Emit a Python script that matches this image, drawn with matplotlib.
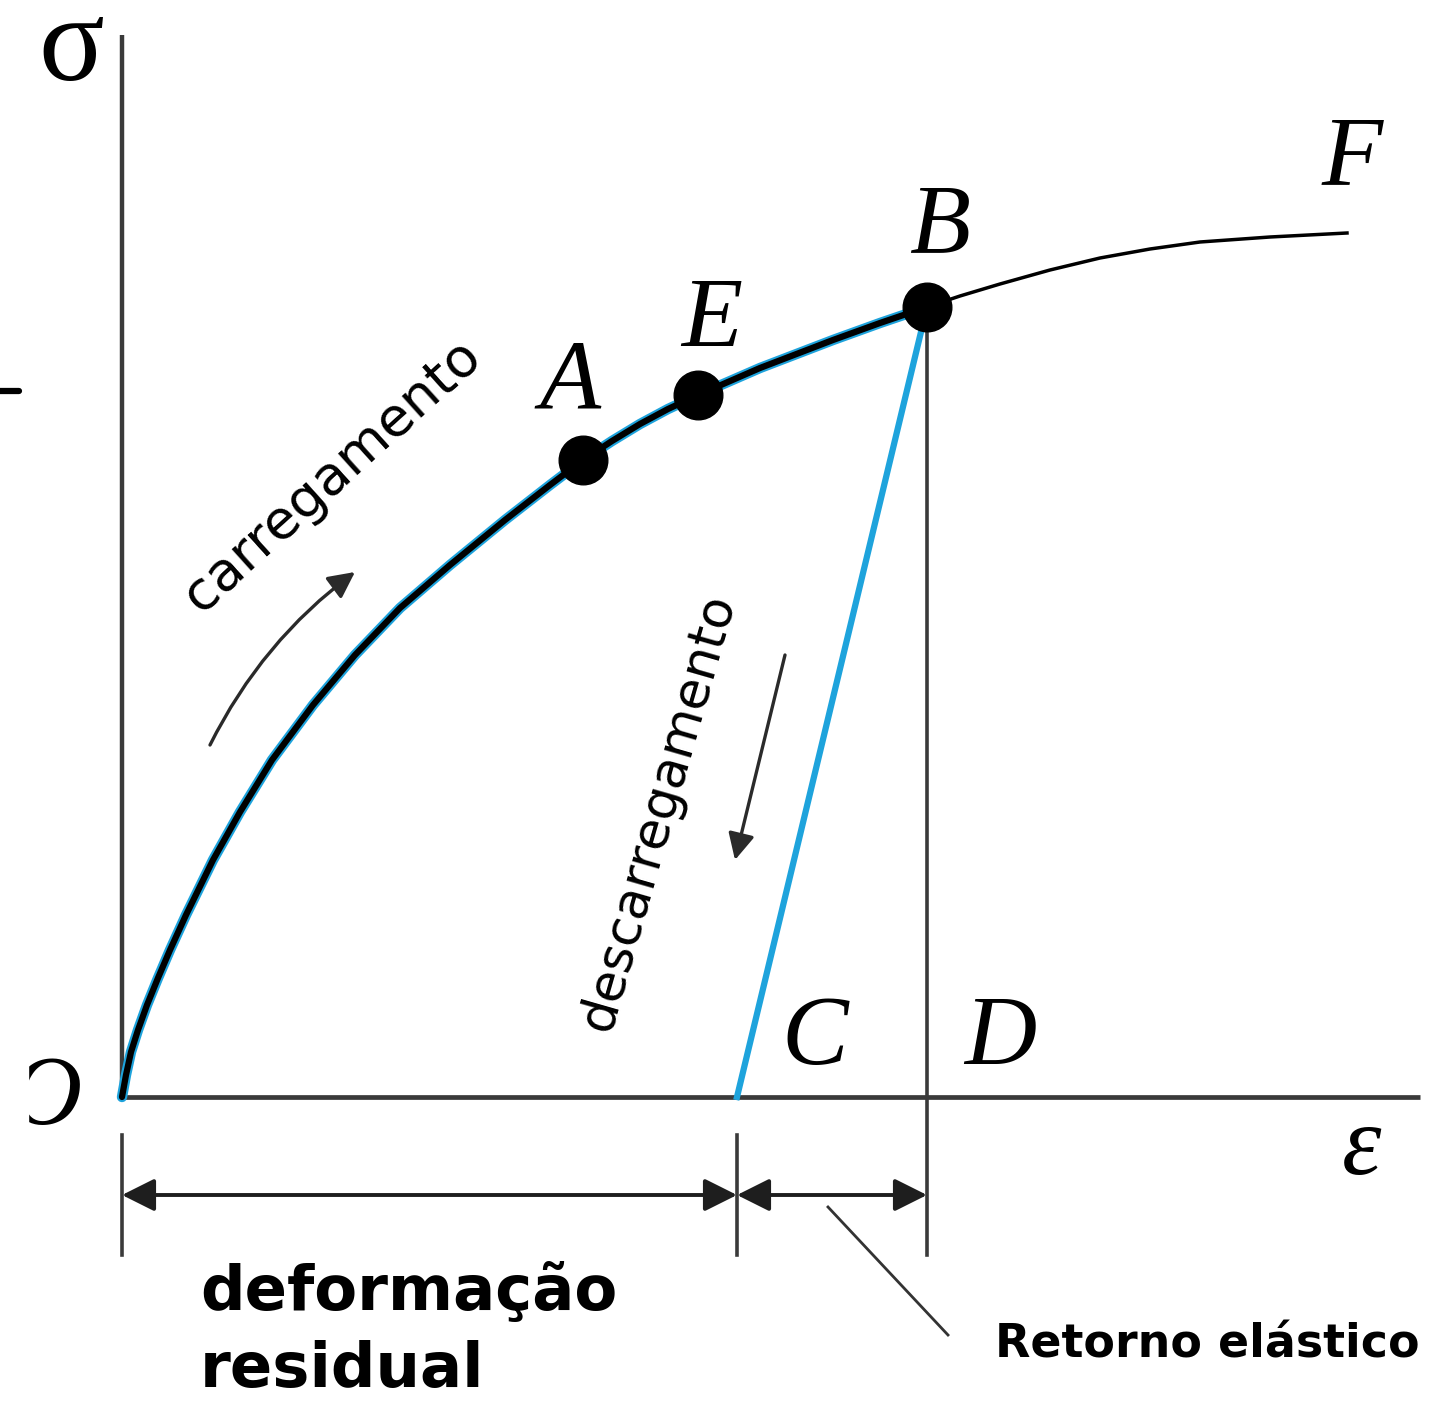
import matplotlib
matplotlib.use("Agg")
import matplotlib.pyplot as plt
from matplotlib.patches import FancyArrowPatch, Rectangle

# ---- data (strain, stress) in arbitrary diagram units ----
load_strain = [0.0, 0.04, 0.09, 0.16, 0.25, 0.36, 0.48, 0.64, 0.91, 1.18, 1.50, 1.91,
               2.33, 2.78, 3.28, 3.83, 4.28, 4.61, 4.90, 5.18, 5.46, 5.76, 6.38,
               7.11, 7.58, 8.05]
load_stress = [0.0, 0.22, 0.45, 0.67, 0.92, 1.19, 1.47, 1.82, 2.37, 2.85, 3.37, 3.92,
               4.42, 4.89, 5.32, 5.77, 6.12, 6.37, 6.56, 6.73, 6.88, 7.02, 7.29,
               7.57, 7.74, 7.90]

plastic_strain = [8.05, 8.38, 8.78, 9.28, 9.78, 10.28, 10.78, 11.48, 12.25]
plastic_stress = [7.90, 8.01, 8.13, 8.27, 8.39, 8.48, 8.55, 8.60, 8.64]

point_names = ["A", "E", "B"]
point_strain = [4.61, 5.76, 8.05]
point_stress = [6.37, 7.02, 7.90]

unload_strain = [8.05, 6.15]   # B -> C
unload_stress = [7.90, 0.0]

residual_strain = 6.15  # C
total_strain = 8.05     # D

BLUE = "#1ea3dc"
AXIS = "#3a3a3a"
HAND = ["DejaVu Sans"]
SERIF = ["Liberation Serif", "DejaVu Serif"]

fig = plt.figure(figsize=(14.46, 14.22), dpi=100)
ax = fig.add_axes([0, 0, 1, 1])
ax.set_xlim(-1.22, 13.24)
ax.set_ylim(-3.25, 10.97)
ax.axis("off")

# axes
ax.plot([0, 0], [0, 10.62], color=AXIS, lw=3.2, solid_capstyle="butt", zorder=2)
ax.plot([0, 12.98], [0, 0], color=AXIS, lw=3.4, solid_capstyle="butt", zorder=2)

# loading curve (black core with blue rim)
ax.plot(load_strain, load_stress, color=BLUE, lw=7.5, solid_capstyle="round",
        solid_joinstyle="round", zorder=4)
ax.plot(load_strain, load_stress, color="black", lw=4.5, solid_capstyle="round",
        solid_joinstyle="round", zorder=5)
# continuation beyond B
ax.plot(plastic_strain, plastic_stress, color="black", lw=2.5,
        solid_joinstyle="round", zorder=4)
# unloading line B -> C
ax.plot(unload_strain, unload_stress, color=BLUE, lw=4.5, zorder=4)

# vertical line at D
ax.plot([total_strain, total_strain], [point_stress[2], -1.58], color=AXIS, lw=2.6, zorder=2)
# extension ticks at O and C
ax.plot([0, 0], [-0.38, -1.58], color=AXIS, lw=2.6, zorder=2)
ax.plot([residual_strain, residual_strain], [-0.38, -1.58], color=AXIS, lw=2.6, zorder=2)

# dimension arrows
dim_y = -0.98
for x0, x1 in [(0, residual_strain), (residual_strain, total_strain)]:
    ax.add_patch(FancyArrowPatch((x0, dim_y), (x1, dim_y), arrowstyle="<|-|>",
                                 mutation_scale=50, color="#1e1e1e", lw=2.8,
                                 shrinkA=0, shrinkB=0, zorder=3))

# leader line to label
ax.plot([7.06, 8.26], [-1.10, -2.38], color="#333333", lw=2.0, zorder=3)

# points
ax.plot(point_strain, point_stress, "o", color="black", ms=35, zorder=6)

# letter labels
letter_kw = dict(family=SERIF, style="italic", fontsize=72, ha="center", va="center", color="black")
ax.text(4.48, 7.12, "A", **letter_kw)
ax.text(5.90, 7.75, "E", **letter_kw)
ax.text(8.18, 8.69, "B", **letter_kw)
ax.text(12.30, 9.37, "F", **letter_kw)
ax.text(6.93, 0.57, "C", **letter_kw)
ax.text(8.78, 0.57, "D", **letter_kw)
ax.text(12.40, -0.53, "ε", **letter_kw)
ax.text(-0.51, 10.17, "σ", family=SERIF, fontsize=88, ha="center", va="baseline")
ax.text(-0.76, -0.03, "O", **letter_kw)
ax.add_patch(Rectangle((-1.22, -0.6), 0.28, 1.2, color="white", zorder=7))
ax.plot([-1.22, -1.03], [7.06, 7.06], color="black", lw=4.5, solid_capstyle="round", zorder=8)

# handwritten annotations
ax.text(2.10, 6.22, "carregamento", family=HAND, fontsize=39, rotation=42,
        ha="center", va="center", rotation_mode="anchor")
ax.text(5.36, 2.84, "descarregamento", family=HAND, fontsize=37, rotation=74,
        ha="center", va="center", rotation_mode="anchor")
ax.text(0.78, -2.13, "deformação", family=HAND, fontsize=45, fontweight="bold",
        ha="left", va="baseline")
ax.text(0.78, -2.90, "residual", family=HAND, fontsize=45, fontweight="bold",
        ha="left", va="baseline")
ax.text(8.73, -2.61, "Retorno elástico", family=HAND, fontsize=33, fontweight="bold",
        ha="left", va="baseline")

# direction arrows
ax.add_patch(FancyArrowPatch((0.88, 3.52), (2.33, 5.25), arrowstyle="-|>",
                             connectionstyle="arc3,rad=-0.12", mutation_scale=40,
                             color="#2a2a2a", lw=2.4, shrinkA=0, shrinkB=0, zorder=3))
ax.add_patch(FancyArrowPatch((6.63, 4.42), (6.13, 2.37), arrowstyle="-|>",
                             mutation_scale=40, color="#2a2a2a", lw=2.4,
                             shrinkA=0, shrinkB=0, zorder=3))

fig.savefig("out.png", dpi=100, facecolor="white")
